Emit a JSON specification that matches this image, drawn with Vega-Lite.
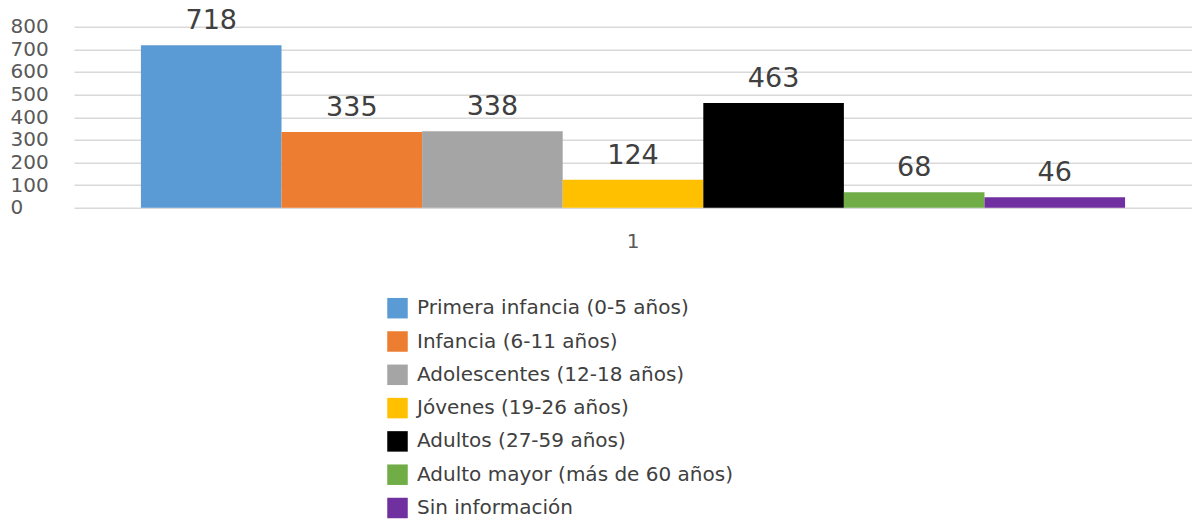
{
  "$schema": "https://vega.github.io/schema/vega-lite/v6.json",
  "width": 1118,
  "height": 181,
  "autosize": "none",
  "padding": {"left": 74, "top": 26.7, "right": 0, "bottom": 311.3},
  "background": "white",
  "config": {
    "font": "DejaVu Sans",
    "view": {"stroke": null}
  },
  "data": {
    "values": [
      {"grupo": "1", "categoria": "Primera infancia (0-5 años)", "valor": 718},
      {"grupo": "1", "categoria": "Infancia (6-11 años)", "valor": 335},
      {"grupo": "1", "categoria": "Adolescentes (12-18 años)", "valor": 338},
      {"grupo": "1", "categoria": "Jóvenes (19-26 años)", "valor": 124},
      {"grupo": "1", "categoria": "Adultos (27-59 años)", "valor": 463},
      {"grupo": "1", "categoria": "Adulto mayor (más de 60 años)", "valor": 68},
      {"grupo": "1", "categoria": "Sin información", "valor": 46}
    ]
  },
  "encoding": {
    "x": {
      "field": "grupo",
      "type": "nominal",
      "scale": {"paddingInner": 0, "paddingOuter": 0.068},
      "axis": {
        "title": null,
        "labelAngle": 0,
        "domain": false,
        "ticks": false,
        "labelPadding": 24,
        "labelFontSize": 20,
        "labelColor": "#595959"
      }
    },
    "xOffset": {
      "field": "categoria",
      "type": "nominal",
      "sort": ["Primera infancia (0-5 años)", "Infancia (6-11 años)", "Adolescentes (12-18 años)", "Jóvenes (19-26 años)", "Adultos (27-59 años)", "Adulto mayor (más de 60 años)", "Sin información"],
      "scale": {"paddingInner": 0, "paddingOuter": 0}
    },
    "y": {
      "field": "valor",
      "type": "quantitative",
      "scale": {"domain": [0, 800], "nice": false},
      "axis": {
        "title": null,
        "values": [0, 100, 200, 300, 400, 500, 600, 700, 800],
        "domain": false,
        "ticks": false,
        "tickSize": 0,
        "labelAlign": "left",
        "labelPadding": 64,
        "labelFontSize": 20,
        "labelColor": "#595959",
        "gridColor": "#d9d9d9",
        "gridWidth": 1.5
      }
    }
  },
  "layer": [
    {
      "mark": {"type": "bar"},
      "encoding": {
        "color": {
          "field": "categoria",
          "type": "nominal",
          "sort": ["Primera infancia (0-5 años)", "Infancia (6-11 años)", "Adolescentes (12-18 años)", "Jóvenes (19-26 años)", "Adultos (27-59 años)", "Adulto mayor (más de 60 años)", "Sin información"],
          "scale": {
            "domain": ["Primera infancia (0-5 años)", "Infancia (6-11 años)", "Adolescentes (12-18 años)", "Jóvenes (19-26 años)", "Adultos (27-59 años)", "Adulto mayor (más de 60 años)", "Sin información"],
            "range": ["#5B9BD5", "#ED7D31", "#A5A5A5", "#FFC000", "#000000", "#70AD47", "#7030A0"]
          },
          "legend": {
            "title": null,
            "orient": "none",
            "legendX": 313,
            "legendY": 271,
            "padding": 0,
            "symbolType": "square",
            "symbolSize": 420,
            "symbolStrokeWidth": 0,
            "labelFontSize": 20,
            "labelColor": "#404040",
            "labelOffset": 9,
            "rowPadding": 12.3,
            "labelLimit": 500
          }
        }
      }
    },
    {
      "mark": {"type": "text", "baseline": "alphabetic", "dy": -16, "fontSize": 27, "color": "#404040"},
      "encoding": {
        "text": {"field": "valor", "type": "quantitative"}
      }
    }
  ]
}
